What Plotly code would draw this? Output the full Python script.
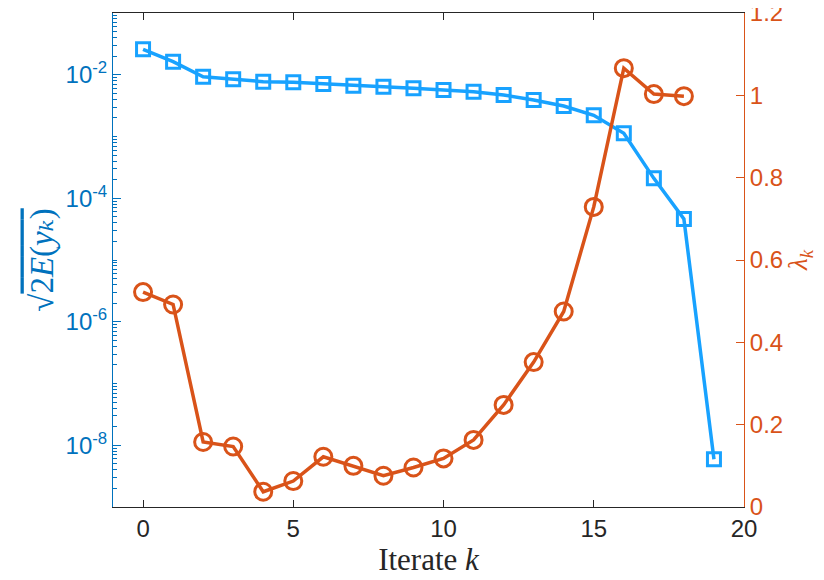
import plotly.graph_objects as go

k_energy = list(range(20))
energy = [2.58e-2, 1.63e-2, 9.29e-3, 8.43e-3, 7.71e-3, 7.55e-3, 7.08e-3, 6.65e-3,
          6.40e-3, 6.04e-3, 5.66e-3, 5.32e-3, 4.70e-3, 3.90e-3, 3.12e-3, 2.20e-3,
          1.13e-3, 2.10e-4, 4.61e-5, 5.92e-9]
k_lambda = list(range(19))
lam = [0.522, 0.492, 0.158, 0.147, 0.037, 0.063, 0.122, 0.100, 0.076, 0.096,
       0.118, 0.163, 0.248, 0.352, 0.475, 0.729, 1.066, 1.003, 0.998]

left_ticks = [1e-8, 1e-6, 1e-4, 1e-2]
left_ticktext = ["10<sup>-8</sup>", "10<sup>-6</sup>", "10<sup>-4</sup>", "10<sup>-2</sup>"]
right_ticks = [0, 0.2, 0.4, 0.6, 0.8, 1, 1.2]
right_ticktext = ["0", "0.2", "0.4", "0.6", "0.8", "1", "1.2"]
x_ticks = [0, 5, 10, 15, 20]

BLUE = "#18A2FF"
AXBLUE = "#0072BD"
ORANGE = "#D95319"
TICKFONT = "Liberation Sans, Arial, sans-serif"
SERIF = "Liberation Serif, DejaVu Serif, serif"

minor_vals = []
for e in range(-9, -1):
    for m in range(1, 10):
        v = m * 10.0 ** e
        if m == 1 and e % 2 == 0:
            continue
        minor_vals.append(v)

OV = "<span style='text-decoration:overline'>{}</span>"
OVI = "<span style='text-decoration:overline;font-style:italic'>{}</span>"
ylab = "√" + OV.format("2") + OVI.format("E") + OV.format("(") + OVI.format("y\u2096") + OV.format(")")

fig = go.Figure()
fig.add_trace(go.Scatter(
    x=k_energy, y=energy, mode="lines+markers", yaxis="y",
    line=dict(color=BLUE, width=3.5),
    marker=dict(symbol="square-open", size=13, color=BLUE, line=dict(width=3, color=BLUE)),
    showlegend=False))
fig.add_trace(go.Scatter(
    x=k_lambda, y=lam, mode="lines+markers", yaxis="y2",
    line=dict(color=ORANGE, width=3.5),
    marker=dict(symbol="circle-open", size=17, color=ORANGE, line=dict(width=3, color=ORANGE)),
    showlegend=False))

fig.update_layout(
    width=824, height=580,
    margin=dict(l=105, r=88, t=5, b=81, autoexpand=False),
    paper_bgcolor="white", plot_bgcolor="white",
    xaxis=dict(range=[-1, 20], tickvals=x_ticks, ticks="inside", ticklen=7,
               tickcolor="#262626", showline=True, linecolor="#262626", linewidth=1,
               mirror="ticks", showgrid=False, zeroline=False, automargin=False,
               ticklabeloverflow="allow",
               tickfont=dict(family=TICKFONT, size=24, color="#262626"),
               title=dict(text="Iterate <i>k</i>", font=dict(family=SERIF, size=31, color="#262626"),
                          standoff=0)),
    yaxis=dict(type="log", range=[-9, -1], tickvals=left_ticks, ticktext=left_ticktext,
               ticks="inside", ticklen=8, tickcolor=AXBLUE, showline=True, linecolor=AXBLUE,
               linewidth=1, showgrid=False, zeroline=False, automargin=False,
               ticklabeloverflow="allow",
               minor=dict(tickvals=minor_vals, ticks="inside", ticklen=4, tickcolor=AXBLUE),
               tickfont=dict(family=TICKFONT, size=24, color=AXBLUE),
               title=dict(text=ylab, font=dict(family=SERIF, size=33, color=AXBLUE), standoff=2)),
    yaxis2=dict(overlaying="y", side="right", range=[0, 1.2], tickvals=right_ticks,
                ticktext=right_ticktext, ticklabeloverflow="allow",
                ticks="inside", ticklen=8, tickcolor=ORANGE, showline=True, linecolor=ORANGE,
                linewidth=1, showgrid=False, zeroline=False, automargin=False,
                tickfont=dict(family=TICKFONT, size=24, color=ORANGE),
                title=dict(text="<i>λ</i><sub><i>k</i></sub>",
                           font=dict(family=SERIF, size=27, color=ORANGE), standoff=4)),
)

fig.write_html("out.html")
